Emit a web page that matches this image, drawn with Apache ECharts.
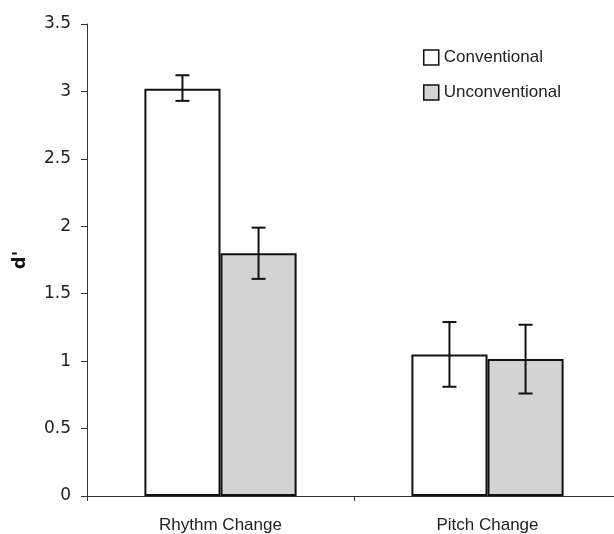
<!DOCTYPE html>
<html>
<head>
<meta charset="utf-8">
<script src="https://cdn.jsdelivr.net/npm/echarts@6/dist/echarts.min.js"></script>
<style>html,body{margin:0;padding:0;background:#fff;overflow:hidden}#c{width:621px;height:534px}</style>
</head>
<body>
<div id="c"></div>
<script>
const categories = ['Rhythm Change', 'Pitch Change'];
const seriesNames = ['Conventional', 'Unconventional'];
const conventional = [3.02, 1.05];
const unconventional = [1.80, 1.015];
const conventionalLow = [2.93, 0.81];
const conventionalHigh = [3.12, 1.29];
const unconventionalLow = [1.61, 0.76];
const unconventionalHigh = [1.99, 1.27];
const yTicks = [0, 0.5, 1, 1.5, 2, 2.5, 3, 3.5];

const chart = echarts.init(document.getElementById('c'));
const catGap = 0.43;

function errorSeries(low, high, side) {
  const data = low.map((l, i) => [i, l, high[i]]);
  return {
    type: 'custom',
    z: 10,
    silent: true,
    renderItem: function (params, api) {
      const band = api.size([1, 0])[0];
      const bw = band * (1 - catGap) / 2;
      const c = api.coord([api.value(0), 0]);
      const x = c[0] + side * bw / 2;
      const yl = api.coord([api.value(0), api.value(1)])[1];
      const yh = api.coord([api.value(0), api.value(2)])[1];
      const cap = 7;
      const st = { stroke: '#111', lineWidth: 2 };
      return {
        type: 'group',
        children: [
          { type: 'line', shape: { x1: x, y1: yl, x2: x, y2: yh }, style: st },
          { type: 'line', shape: { x1: x - cap, y1: yh, x2: x + cap, y2: yh }, style: st },
          { type: 'line', shape: { x1: x - cap, y1: yl, x2: x + cap, y2: yl }, style: st }
        ]
      };
    },
    data: data
  };
}

chart.setOption({
  animation: false,
  grid: { left: 87, right: 0, top: 24, bottom: 37 },
  legend: {
    orient: 'vertical',
    left: 418,
    top: 44,
    itemWidth: 15,
    itemHeight: 15,
    itemGap: 18,
    icon: 'rect',
    textStyle: { fontFamily: 'Liberation Sans, Arial', fontSize: 17, color: '#222' },
    itemStyle: { borderColor: '#111', borderWidth: 1.5 },
    data: seriesNames
  },
  xAxis: {
    type: 'category',
    data: categories,
    axisLine: { lineStyle: { color: '#333', width: 1 } },
    axisTick: { show: true, length: 5, lineStyle: { color: '#333' } },
    axisLabel: { fontFamily: 'Liberation Sans, Arial', fontSize: 17, color: '#222', margin: 21 }
  },
  yAxis: {
    type: 'value',
    min: 0,
    max: 3.5,
    interval: 0.5,
    name: "d'",
    nameLocation: 'middle',
    nameGap: 58,
    nameTextStyle: { fontFamily: 'DejaVu Sans', fontWeight: 'bold', fontSize: 18, color: '#111' },
    splitLine: { show: false },
    axisLine: { show: true, lineStyle: { color: '#333', width: 1 } },
    axisTick: { show: true, length: 6, lineStyle: { color: '#333' } },
    axisLabel: {
      fontFamily: 'DejaVu Sans', fontSize: 17, color: '#222', margin: 16,
      formatter: function (v) { return yTicks.indexOf(v) >= 0 ? String(v) : ''; }
    }
  },
  series: [
    {
      name: seriesNames[0], type: 'bar', data: conventional,
      barGap: '0%', barCategoryGap: (catGap * 100) + '%',
      itemStyle: { color: '#ffffff', borderColor: '#111', borderWidth: 2 }
    },
    {
      name: seriesNames[1], type: 'bar', data: unconventional,
      barGap: '0%', barCategoryGap: (catGap * 100) + '%',
      itemStyle: { color: '#d3d3d3', borderColor: '#111', borderWidth: 2 }
    },
    errorSeries(conventionalLow, conventionalHigh, -1),
    errorSeries(unconventionalLow, unconventionalHigh, 1)
  ]
});
</script>
</body>
</html>
